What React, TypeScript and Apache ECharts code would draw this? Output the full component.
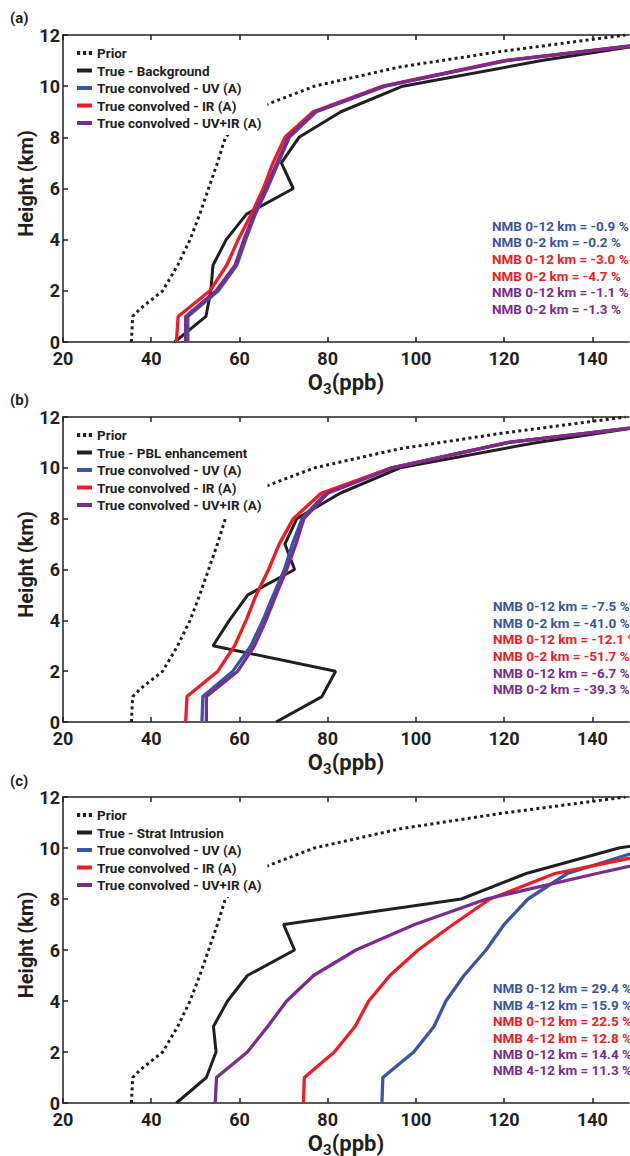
import React, { useEffect, useRef } from 'react';
import * as echarts from 'echarts';

// ---------- data ----------
const HEIGHTS = [0, 1, 2, 3, 4, 5, 6, 7, 8, 9, 10, 11, 12];
const PRIOR_H = [0, 1, 1.3, 2, 3, 4, 5, 6, 7, 8, 8.6, 9.25, 10, 10.75, 11.35, 12];
const PRIOR_V = [35.5, 35.8, 37.5, 42.6, 46.0, 48.8, 51.0, 53.0, 55.0, 56.8, 60.0, 65.6, 77.0, 96.3, 119.0, 147.5];

const TRUE_A = [45.3, 52.4, 53.5, 54.0, 57.0, 61.6, 72.2, 69.5, 73.5, 83.0, 97.0, 128.5, 166];
const UV_A = [48.3, 48.3, 55.2, 59.4, 61.4, 63.6, 66.3, 68.8, 71.3, 77.4, 93.0, 120.5, 170];
const IR_A = [45.7, 46.1, 53.3, 57.1, 59.7, 62.7, 65.4, 67.6, 70.3, 76.7, 92.5, 120.0, 170];
const UVIR_A = [47.8, 47.8, 54.7, 59.0, 61.0, 63.3, 66.0, 68.5, 71.0, 77.2, 92.8, 120.3, 170];

const TRUE_B = [68.3, 78.7, 81.8, 54.0, 57.7, 61.9, 72.5, 70.3, 73.0, 82.8, 96.4, 127.5, 166];
const UV_B = [51.5, 51.7, 58.5, 62.6, 65.3, 67.7, 70.2, 72.0, 74.2, 79.5, 94.5, 121.0, 170];
const IR_B = [47.8, 48.1, 55.1, 58.9, 61.5, 63.8, 66.6, 69.0, 72.2, 78.5, 94.5, 121.0, 170];
const UVIR_B = [52.5, 52.5, 59.6, 63.4, 66.0, 68.3, 70.7, 72.8, 74.6, 80.0, 94.8, 121.0, 170];

const TRUE_C = [45.7, 52.5, 54.7, 54.1, 57.3, 61.8, 72.5, 70.0, 110.3, 125.0, 146.0, 185, 230];
const UV_C = [92.3, 92.5, 99.5, 104.1, 106.8, 110.9, 115.9, 120.0, 125.4, 134.3, 153, 180, 215];
const IR_C = [74.5, 74.7, 81.5, 86.2, 89.3, 94.1, 100.5, 108.4, 116.8, 131.5, 160, 190, 225];
const UVIR_C = [54.5, 54.8, 61.8, 66.4, 70.7, 76.8, 86.4, 99.7, 116.0, 141.0, 167, 195, 230];

const TRUE_NAMES = ['True - Background', 'True - PBL enhancement', 'True - Strat Intrusion'];
const PANEL_LABELS = ['(a)', '(b)', '(c)'];
const X_TITLE = '{o|O}{s|3}{o|(ppb)}';
const Y_TITLE = 'Height (km)';

const NMB_A = ['NMB 0-12 km = -0.9 %', 'NMB 0-2 km = -0.2 %', 'NMB 0-12 km = -3.0 %', 'NMB 0-2 km = -4.7 %', 'NMB 0-12 km = -1.1 %', 'NMB 0-2 km = -1.3 %'];
const NMB_B = ['NMB 0-12 km = -7.5 %', 'NMB 0-2 km = -41.0 %', 'NMB 0-12 km = -12.1 %', 'NMB 0-2 km = -51.7 %', 'NMB 0-12 km = -6.7 %', 'NMB 0-2 km = -39.3 %'];
const NMB_C = ['NMB 0-12 km = 29.4 %', 'NMB 4-12 km = 15.9 %', 'NMB 0-12 km = 22.5 %', 'NMB 4-12 km = 12.8 %', 'NMB 0-12 km = 14.4 %', 'NMB 4-12 km = 11.3 %'];

const X_TICKS = [20, 40, 60, 80, 100, 120, 140];

// ---------- style ----------
const BLACK = '#231f20';
const BLUE = '#3a55a4';
const RED = '#ee1d24';
const PURPLE = '#7b2c8c';
const FONT = 'Roboto';
const NMB_COLORS = [BLUE, BLUE, RED, RED, PURPLE, PURPLE];

const GRID_LEFT = 63;
const GRID_W = 566;
const GRID_TOPS = [35, 417, 797];
const GRID_H = [307, 305, 306];
const NMB_TOP = [225.7, 606, 988.3];
const NMB_STEP = [16.67, 16.67, 16.4];
const NMB_LEFT = [492, 493, 493];
const LABEL_Y = [19, 401, 782];

const LINE_ICON = 'path://M0,0L15,0L15,4L0,4Z';
const DOT_ICON = 'path://M0,0h3.2v4h-3.2zM5.9,0h3.2v4h-3.2zM11.8,0h3.2v4h-3.2z';

const PANELS = [
  { t: TRUE_A, uv: UV_A, ir: IR_A, uvir: UVIR_A, nmb: NMB_A },
  { t: TRUE_B, uv: UV_B, ir: IR_B, uvir: UVIR_B, nmb: NMB_B },
  { t: TRUE_C, uv: UV_C, ir: IR_C, uvir: UVIR_C, nmb: NMB_C },
];

function pairs(vals: number[], hs: number[]) {
  return vals.map((v, i) => [v, hs[i]]);
}

function buildOption() {
  const axisLine = { show: true, onZero: false, lineStyle: { color: BLACK, width: 1.5 } };
  const axisTick = { show: true, inside: true, length: 5, lineStyle: { color: BLACK, width: 1.5 } };
  const grid: any[] = [];
  const xAxis: any[] = [];
  const yAxis: any[] = [];
  const series: any[] = [];
  const legend: any[] = [];
  const graphic: any[] = [];

  PANELS.forEach((p, i) => {
    grid.push({ left: GRID_LEFT, top: GRID_TOPS[i], width: GRID_W, height: GRID_H[i] });
    xAxis.push({
      gridIndex: i, type: 'value', min: 20, max: 148.3, interval: 20, position: 'bottom',
      axisLine, axisTick: { ...axisTick, customValues: X_TICKS },
      splitLine: { show: false },
      axisLabel: {
        customValues: X_TICKS, margin: 7, color: BLACK, fontFamily: FONT, fontWeight: 'bold', fontSize: 18,
      },
    });
    xAxis.push({
      gridIndex: i, type: 'value', min: 20, max: 148.3, interval: 20, position: 'top',
      axisLine, axisTick: { ...axisTick, customValues: X_TICKS },
      axisLabel: { show: false }, splitLine: { show: false },
    });
    yAxis.push({
      gridIndex: i, type: 'value', min: 0, max: 12, interval: 2,
      axisLine, axisTick, splitLine: { show: false },
      axisLabel: { margin: 3, color: BLACK, fontFamily: FONT, fontWeight: 'bold', fontSize: 18 },
    });

    const common = { type: 'line', xAxisIndex: 2 * i, yAxisIndex: i, symbol: 'none', clip: true };
    series.push({ ...common, name: 'Prior', data: pairs(PRIOR_V, PRIOR_H), color: BLACK, lineStyle: { color: BLACK, width: 3, type: [3, 3.3] } });
    series.push({ ...common, name: TRUE_NAMES[i], data: pairs(p.t, HEIGHTS), color: BLACK, lineStyle: { color: BLACK, width: 3 } });
    series.push({ ...common, name: 'True convolved - UV (A)', data: pairs(p.uv, HEIGHTS), color: BLUE, lineStyle: { color: BLUE, width: 3.3 } });
    series.push({ ...common, name: 'True convolved - IR (A)', data: pairs(p.ir, HEIGHTS), color: RED, lineStyle: { color: RED, width: 3.3 } });
    series.push({ ...common, name: 'True convolved - UV+IR (A)', data: pairs(p.uvir, HEIGHTS), color: PURPLE, lineStyle: { color: PURPLE, width: 3.3 } });

    legend.push({
      orient: 'vertical', left: 72, top: GRID_TOPS[i] + 8,
      backgroundColor: '#ffffff', padding: [3, 6, 5, 5],
      itemWidth: 15, itemHeight: 4, itemGap: 3.5, itemTextGap: 2,
      selectedMode: false,
      itemStyle: { borderWidth: 0 },
      textStyle: { color: BLACK, fontFamily: FONT, fontWeight: 'bold', fontSize: 13.5, lineHeight: 14 },
      data: [
        { name: 'Prior', icon: DOT_ICON },
        { name: TRUE_NAMES[i], icon: LINE_ICON },
        { name: 'True convolved - UV (A)', icon: LINE_ICON },
        { name: 'True convolved - IR (A)', icon: LINE_ICON },
        { name: 'True convolved - UV+IR (A)', icon: LINE_ICON },
      ],
    });

    const axisY = GRID_TOPS[i] + GRID_H[i];
    // x-axis title
    graphic.push({
      type: 'text', x: GRID_LEFT + GRID_W / 2, y: axisY + 40,
      style: {
        text: X_TITLE, textAlign: 'center', textVerticalAlign: 'middle',
        rich: {
          o: { fontSize: 22, fontWeight: 'bold', fontFamily: FONT, fill: BLACK, lineHeight: 22 },
          s: { fontSize: 15, fontWeight: 'bold', fontFamily: FONT, fill: BLACK, lineHeight: 15, padding: [14, 0, 0, 0] },
        },
      },
    });
    // y-axis title
    graphic.push({
      type: 'text', x: 25.5, y: GRID_TOPS[i] + GRID_H[i] / 2 - 5, rotation: Math.PI / 2,
      style: {
        text: Y_TITLE, fill: BLACK, font: `bold 20px ${FONT}`, textAlign: 'center', textVerticalAlign: 'middle',
      },
    });

    graphic.push({
      type: 'text', left: 10, top: LABEL_Y[i] - 9,
      style: { text: PANEL_LABELS[i], fill: BLACK, font: `bold 15px ${FONT}` },
    });
    p.nmb.forEach((txt, k) => {
      graphic.push({
        type: 'text', x: NMB_LEFT[i], y: NMB_TOP[i] + k * NMB_STEP[i],
        style: { text: txt, fill: NMB_COLORS[k], font: `bold 13.5px ${FONT}`, textAlign: 'left', textVerticalAlign: 'middle' },
      });
    });
  });

  return {
    animation: false,
    backgroundColor: '#ffffff',
    textStyle: { fontFamily: FONT },
    grid, xAxis, yAxis, series, legend, graphic,
  };
}

export default function App() {
  const ref = useRef<HTMLDivElement>(null);
  useEffect(() => {
    if (!ref.current) return;
    const chart = echarts.init(ref.current, null, { renderer: 'svg' });
    chart.setOption(buildOption() as any);
    return () => chart.dispose();
  }, []);
  return (
    <div
      ref={ref}
      style={{ position: 'absolute', left: 0, top: 0, width: 630, height: 1156, background: '#fff' }}
    />
  );
}
